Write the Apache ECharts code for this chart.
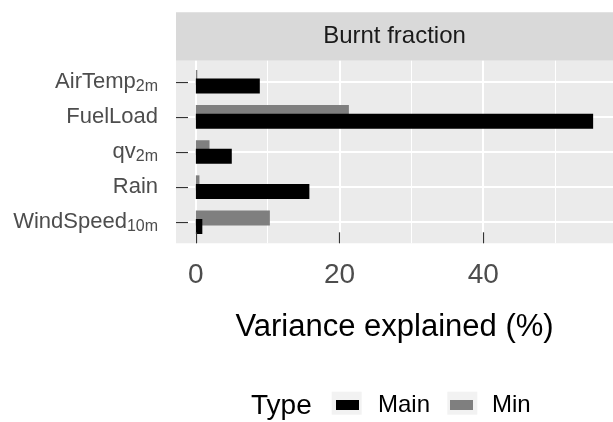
<!DOCTYPE html>
<html>
<head>
<meta charset="utf-8">
<script src="https://cdn.jsdelivr.net/npm/echarts@6/dist/echarts.min.js"></script>
<style>
html,body{margin:0;padding:0;background:#fff;}
#chart{width:613px;height:422px;}
</style>
</head>
<body>
<div id="chart"></div>
<script>
// ---- data ----
var categories = ['AirTemp', 'FuelLoad', 'qv', 'Rain', 'WindSpeed'];
var subscripts = ['2m', '', '2m', '', '10m'];
var mainValues = [8.9, 55.3, 5.0, 15.8, 0.9];
var minValues = [0.2, 21.3, 1.9, 0.5, 10.3];
var xTickLabels = [0, 20, 40];
var xMinorBreaks = [10, 30, 50];
var seriesNames = ['Main', 'Min'];
var panelTitle = 'Burnt fraction';
var xTitle = 'Variance explained (%)';
var legendTitle = 'Type';

// ---- layout ----
var FONT = "'Liberation Sans', Arial, Helvetica, sans-serif";
var PL = 176, PT = 60.7, PW = 437, PH = 182.6;
var nCat = categories.length;
var band = PH / (nCat + 0.2);
var dmax = Math.max.apply(null, mainValues.concat(minValues));
var pad = dmax * 0.05;
var xMin = -pad, xMax = dmax + pad;

var chart = echarts.init(document.getElementById('chart'), null, {renderer: 'canvas'});

var gridMarks = [];
xTickLabels.forEach(function (v) { gridMarks.push({xAxis: v, lineStyle: {width: 2}}); });
xMinorBreaks.forEach(function (v) { gridMarks.push({xAxis: v, lineStyle: {width: 1}}); });
categories.forEach(function (c, i) { gridMarks.push({yAxis: i + 1, lineStyle: {width: 2}}); });

var option = {
  animation: false,
  textStyle: {fontFamily: FONT},
  grid: [
    {left: PL, top: PT, width: PW, height: PH, show: true, backgroundColor: '#EBEBEB', borderWidth: 0, containLabel: false, outerBoundsMode: 'none'},
    {left: PL, top: PT + 0.1 * band, width: PW, height: band * nCat, containLabel: false, outerBoundsMode: 'none'}
  ],
  xAxis: [
    {
      type: 'value', gridIndex: 0, min: xMin, max: xMax, z: 10, position: 'bottom',
      axisLine: {show: false, onZero: false},
      axisTick: {show: true, inside: true, length: 11, customValues: xTickLabels, lineStyle: {color: '#333333', width: 1.2}},
      axisLabel: {show: true, customValues: xTickLabels, fontSize: 28, color: '#4D4D4D', margin: 18, fontFamily: FONT},
      splitLine: {show: false},
      name: xTitle, nameLocation: 'middle', nameGap: 69,
      nameTextStyle: {fontSize: 31, color: '#000000', fontFamily: FONT}
    },
    {
      type: 'value', gridIndex: 1, min: xMin, max: xMax, show: false,
      axisLine: {onZero: false},
      splitLine: {show: false}
    }
  ],
  yAxis: [
    {type: 'value', gridIndex: 0, min: 0.4, max: nCat + 0.6, inverse: true, show: false, axisLine: {onZero: false}, splitLine: {show: false}},
    {
      type: 'category', gridIndex: 1, data: categories, inverse: true, z: 10, position: 'left',
      axisLine: {show: false, onZero: false},
      axisTick: {show: true, inside: true, length: 12, alignWithLabel: true, lineStyle: {color: '#333333', width: 1.2}},
      splitLine: {show: false},
      axisLabel: {
        margin: 18,
        formatter: function (v, i) {
          var s = subscripts[i];
          return '{a|' + v + '}' + (s ? '{s|' + s + '}' : '');
        },
        rich: {
          a: {fontSize: 22, color: '#4D4D4D', fontFamily: FONT},
          s: {fontSize: 16, color: '#4D4D4D', fontFamily: FONT, verticalAlign: 'bottom', padding: [9, 0, 0, 0]}
        }
      }
    }
  ],
  legend: {
    data: seriesNames,
    left: 336, top: 393, padding: 0,
    orient: 'horizontal',
    itemWidth: 23, itemHeight: 10, itemGap: 20,
    icon: 'rect',
    textStyle: {fontSize: 24, color: '#000000', fontFamily: FONT, padding: [0, 0, 0, 14]}
  },
  graphic: [
    {type: 'rect', shape: {x: PL, y: 12.3, width: PW, height: PT - 12.3}, style: {fill: '#D9D9D9'}, z: -1, silent: true},
    {type: 'text', x: PL + PW / 2, y: 36.5, style: {text: panelTitle, fontSize: 24, fill: '#1A1A1A', font: '24px ' + FONT, textAlign: 'center', textVerticalAlign: 'middle'}, silent: true},
    {type: 'text', x: 251, y: 406, style: {text: legendTitle, font: '28px ' + FONT, fill: '#000000', textAlign: 'left', textVerticalAlign: 'middle'}, silent: true},
    {type: 'rect', shape: {x: 331.7, y: 391.7, width: 30, height: 23}, style: {fill: '#F2F2F2'}, z: -1, silent: true},
    {type: 'rect', shape: {x: 447.3, y: 391.7, width: 30, height: 23}, style: {fill: '#F2F2F2'}, z: -1, silent: true}
  ],
  series: [
    {
      type: 'line', name: '_grid', xAxisIndex: 0, yAxisIndex: 0, data: [], z: 1, silent: true,
      markLine: {silent: true, z: 1, symbol: ['none', 'none'], label: {show: false}, animation: false,
        lineStyle: {color: '#FFFFFF', type: 'solid'}, data: gridMarks}
    },
    {
      type: 'bar', name: seriesNames[1], xAxisIndex: 1, yAxisIndex: 1, data: minValues,
      barWidth: 15, barGap: '-43%', z: 3, itemStyle: {color: '#7F7F7F'}
    },
    {
      type: 'bar', name: seriesNames[0], xAxisIndex: 1, yAxisIndex: 1, data: mainValues,
      barWidth: 15, barGap: '-43%', z: 4, itemStyle: {color: '#000000'}
    }
  ]
};
chart.setOption(option);
</script>
</body>
</html>
